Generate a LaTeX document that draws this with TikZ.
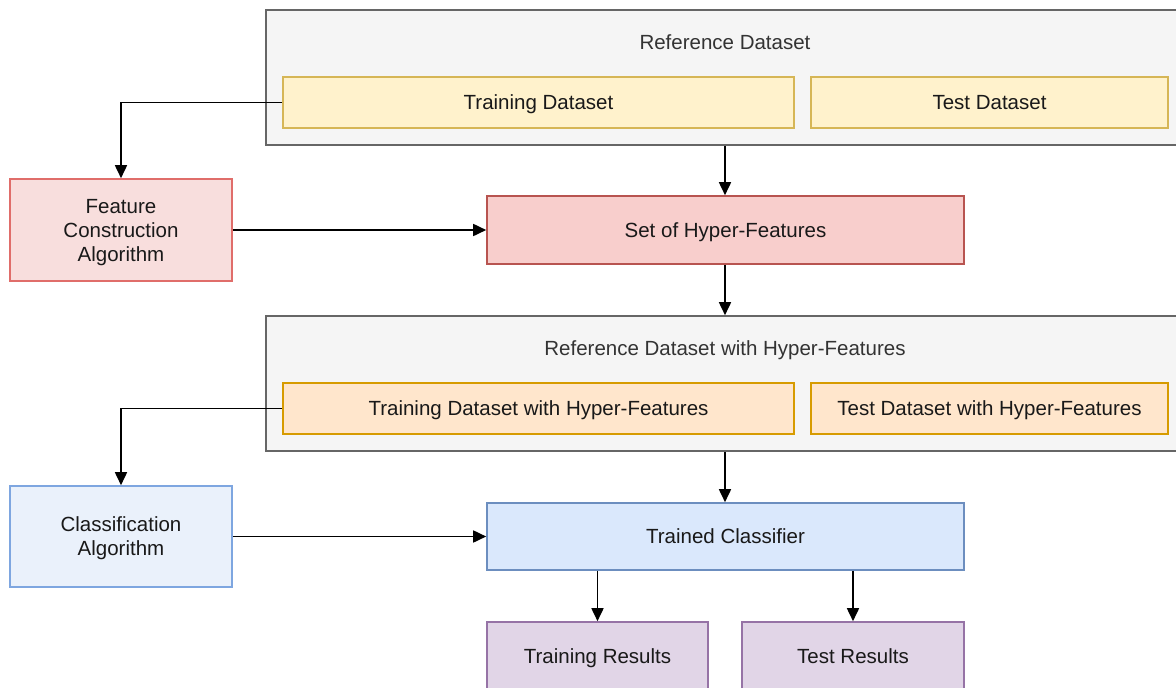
\documentclass[tikz,border=0pt]{standalone}
\usepackage{fontspec}
\setmainfont{Liberation Sans}
\usetikzlibrary{arrows.meta}
\definecolor{grayfill}{HTML}{F5F5F5}
\definecolor{graydraw}{HTML}{666666}
\definecolor{graytext}{HTML}{333333}
\definecolor{yelfill}{HTML}{FFF2CC}
\definecolor{yeldraw}{HTML}{D6B656}
\definecolor{orafill}{HTML}{FFE6CC}
\definecolor{oradraw}{HTML}{D79B00}
\definecolor{redfill}{HTML}{F8CECC}
\definecolor{reddraw}{HTML}{B85450}
\definecolor{lredfill}{HTML}{F8DEDD}
\definecolor{lreddraw}{HTML}{E06D6A}
\definecolor{bluefill}{HTML}{DAE8FC}
\definecolor{bluedraw}{HTML}{6C8EBF}
\definecolor{lbluefill}{HTML}{EAF1FB}
\definecolor{lbluedraw}{HTML}{7EA6E0}
\definecolor{purfill}{HTML}{E1D5E7}
\definecolor{purdraw}{HTML}{9673A6}
\tikzset{
  box/.style={draw, rectangle, line width=1.6pt, inner sep=0pt, align=center,
    font=\fontsize{20.5}{24}\selectfont, text=black!90, text depth=0pt},
  group/.style={box, fill=grayfill, draw=graydraw},
  yelbox/.style={box, fill=yelfill, draw=yeldraw},
  orabox/.style={box, fill=orafill, draw=oradraw},
  redbox/.style={box, fill=redfill, draw=reddraw},
  lredbox/.style={box, fill=lredfill, draw=lreddraw},
  bluebox/.style={box, fill=bluefill, draw=bluedraw},
  lbluebox/.style={box, fill=lbluefill, draw=lbluedraw},
  purbox/.style={box, fill=purfill, draw=purdraw},
  grouptitle/.style={font=\fontsize{20.5}{24}\selectfont, text=graytext, inner sep=0pt, text depth=0pt},
  flow/.style={line width=1.7pt, -{Triangle[length=13pt,width=12pt]}},
}
\begin{document}
\begin{tikzpicture}[x=1pt,y=-1pt]
\useasboundingbox (0,0) rectangle (1176,688);
\clip (0,0) rectangle (1176,688);

% first group: the reference dataset and its split
\node[group, minimum width=918, minimum height=135] (rd) at (725,77.5) {};
\node[grouptitle] (rdt) at (725,42) {Reference Dataset};
\node[yelbox, minimum width=511, minimum height=51] (trd) at (538.5,102.5) {Training Dataset};
\node[yelbox, minimum width=357, minimum height=51] (ted) at (989.5,102.5) {Test Dataset};

% feature construction
\node[lredbox, minimum width=222, minimum height=102] (fca) at (121,230) {Feature\\Construction\\Algorithm};
\node[redbox, minimum width=477, minimum height=68] (shf) at (725.5,230) {Set of Hyper-Features};

% second group: the dataset extended with hyper-features
\node[group, minimum width=918, minimum height=135] (rdh) at (725,383.5) {};
\node[grouptitle] (rdht) at (725,348) {Reference Dataset with Hyper-Features};
\node[orabox, minimum width=511, minimum height=51] (trdh) at (538.5,408.5) {Training Dataset with Hyper-Features};
\node[orabox, minimum width=357, minimum height=51] (tedh) at (989.5,408.5) {Test Dataset with Hyper-Features};

% classification
\node[lbluebox, minimum width=222, minimum height=101] (ca) at (121,536.5) {Classification\\Algorithm};
\node[bluebox, minimum width=477, minimum height=67] (tc) at (725.5,536.5) {Trained Classifier};

% results
\node[purbox, minimum width=221, minimum height=68] (tr) at (597.5,656) {Training Results};
\node[purbox, minimum width=222, minimum height=68] (ter) at (853,656) {Test Results};

% connectors
\draw[flow] (trd.west) -| (fca.north);
\draw[flow] (rd.south) -- (rd.south |- shf.north);
\draw[flow] (fca.east) -- (fca.east -| shf.west);
\draw[flow] (shf.south -| rdh.south) -- (rdh.north);
\draw[flow] (trdh.west) -| (ca.north);
\draw[flow] (rdh.south) -- (rdh.south |- tc.north);
\draw[flow] (ca.east) -- (ca.east -| tc.west);
\draw[flow] (tr.north |- tc.south) -- (tr.north);
\draw[flow] (ter.north |- tc.south) -- (ter.north);
\end{tikzpicture}
\end{document}
